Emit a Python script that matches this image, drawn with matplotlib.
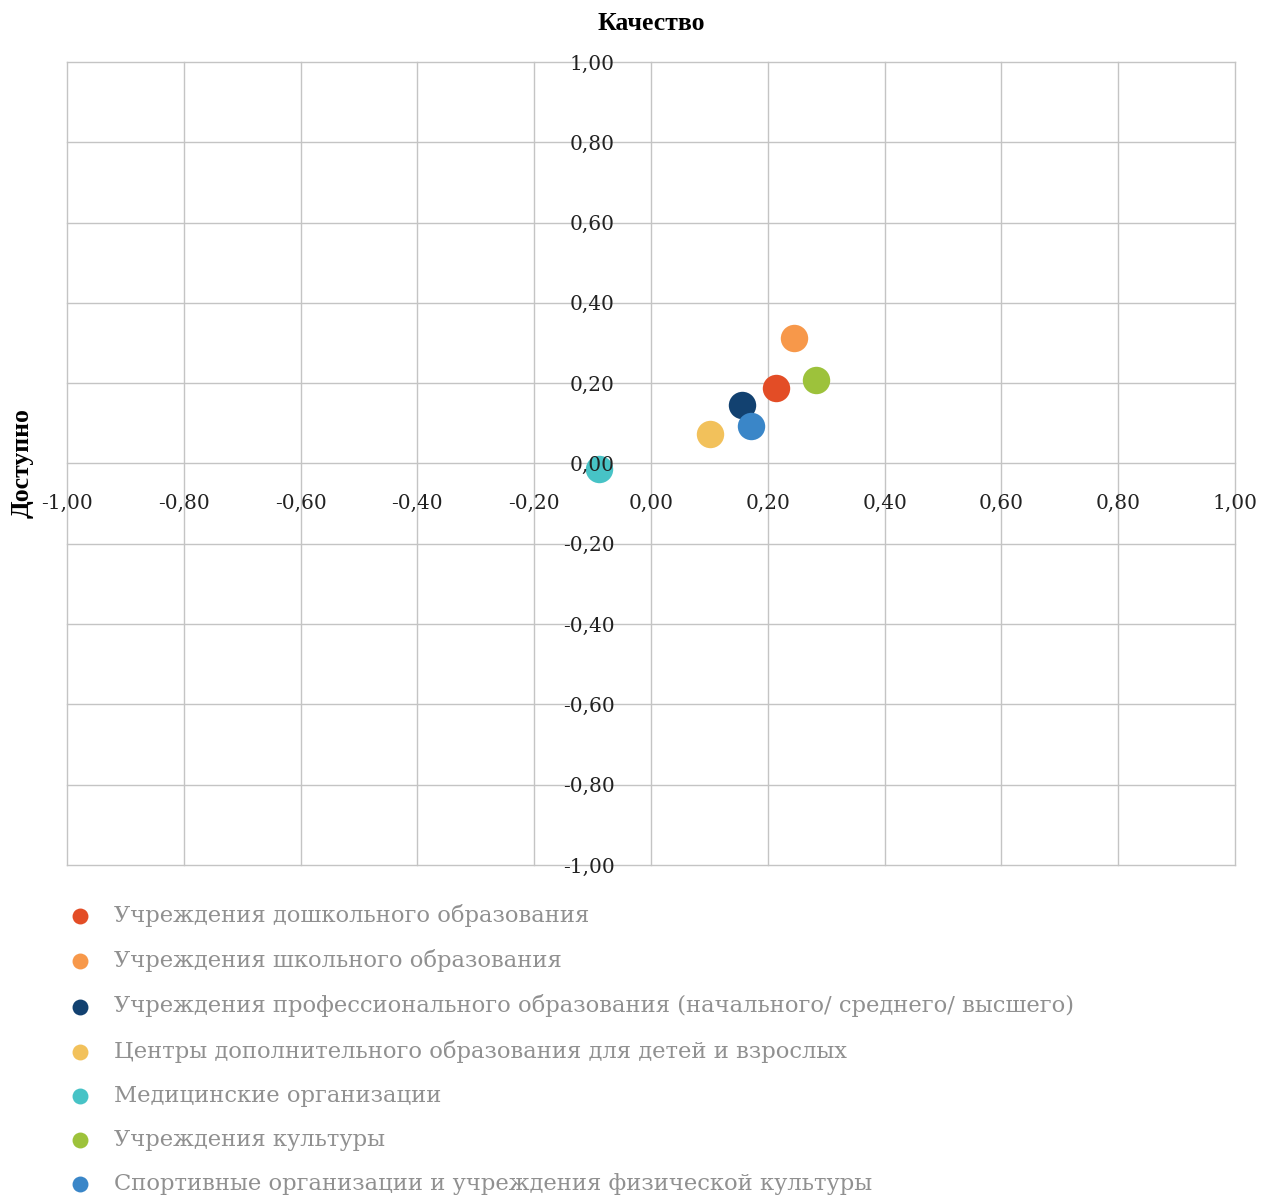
import matplotlib
matplotlib.use('Agg')
import matplotlib.pyplot as plt
import numpy as np
from matplotlib.ticker import FuncFormatter

# data
labels = [
    'Учреждения дошкольного образования',
    'Учреждения школьного образования',
    'Учреждения профессионального образования (начального/ среднего/ высшего)',
    'Центры дополнительного образования для детей и взрослых',
    'Медицинские организации',
    'Учреждения культуры',
    'Спортивные организации и учреждения физической культуры',
]
quality = [0.214, 0.245, 0.156, 0.101, -0.089, 0.283, 0.172]
access = [0.189, 0.313, 0.146, 0.073, -0.014, 0.208, 0.093]
colors = ['#E34D26', '#F7984A', '#124170', '#F2C15B', '#47C3C6',
          '#9DC23B', '#3A86C8']
ticks = np.round(np.arange(-1.0, 1.01, 0.2), 2)

GRID = '#c4c4c4'
plt.rcParams['font.family'] = ['DejaVu Serif']

fig = plt.figure(figsize=(12.61, 11.96), dpi=100)
ax = fig.add_axes([0.0531, 0.2768, 0.9263, 0.6714])

# grid under the dots, tick labels above them
for t in ticks:
    ax.axhline(t, color=GRID, linewidth=1, zorder=1, clip_on=False)
    ax.axvline(t, color=GRID, linewidth=1, zorder=1, clip_on=False)

for lab, xv, yv, col in zip(labels, quality, access, colors):
    ax.scatter(xv, yv, s=390, color=col, label=lab, zorder=2,
               linewidths=0)

ax.set_xlim(-1, 1)
ax.set_ylim(-1, 1)
ax.set_xticks(ticks)
ax.set_yticks(ticks)
fmt = FuncFormatter(lambda v, p: f'{v:.2f}'.replace('.', ',').replace('-0,00', '0,00'))
ax.xaxis.set_major_formatter(fmt)
ax.yaxis.set_major_formatter(fmt)
ax.set_axisbelow(False)

ax.spines['left'].set_position('zero')
ax.spines['bottom'].set_position('zero')
for sp in ax.spines.values():
    sp.set_visible(False)
ax.tick_params(axis='both', length=0, labelsize=14.5, labelcolor='#222222')
ax.tick_params(axis='x', pad=22)
ax.tick_params(axis='y', pad=26)

fig.text(0.5163, 0.980, 'Качество', ha='center', va='center',
         fontsize=18.5, fontweight='bold', family='Liberation Serif')
fig.text(0.0175, 0.6125, 'Доступно', ha='center', va='center',
         rotation=90, fontsize=18.5, fontweight='bold',
         family='Liberation Serif')

leg = fig.legend(loc='upper left', bbox_to_anchor=(0.0362, 0.2609),
                 frameon=False, fontsize=16.3, markerscale=0.58,
                 labelspacing=0.975, handletextpad=0.9, handlelength=1.2)
for t in leg.get_texts():
    t.set_color('#909090')

fig.savefig('out.png', dpi=100)
